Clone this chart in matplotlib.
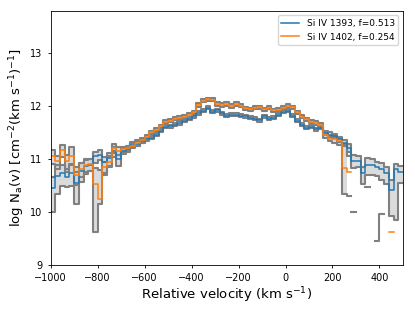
import matplotlib
matplotlib.use("Agg")
import matplotlib.pyplot as plt
import numpy as np

nan = np.nan

# bin edges of the velocity grid (km/s)
v_edges = np.arange(-1000, 501, 20)

# Si IV 1393 apparent column density per bin
logN_1393 = [10.45, 10.68, 10.73, 10.66, 10.73, 10.55, 10.77, 10.87, 10.89, 11.05,
             11.08, 10.94, 11.02, 11.15, 10.99, 11.15, 11.18, 11.27, 11.29, 11.34,
             11.37, 11.40, 11.46, 11.53, 11.61, 11.62, 11.65, 11.68, 11.72, 11.76,
             11.81, 11.87, 11.91, 11.97, 11.89, 11.92, 11.86, 11.82, 11.84, 11.84,
             11.82, 11.81, 11.78, 11.76, 11.73, 11.81, 11.76, 11.78, 11.84, 11.89,
             11.91, 11.82, 11.72, 11.65, 11.59, 11.61, 11.56, 11.59, 11.49, 11.46,
             11.43, 11.37, 11.30, 11.21, 10.97, 10.96, 10.73, 10.89, 10.89, 10.85,
             10.80, 10.73, 10.42, 10.80, 10.75]
err_lo_1393 = [0.45, 0.35, 0.25, 0.20, 0.25, 0.40, 0.20, 0.15, 0.12, 0.12,
               0.10, 0.20, 0.15, 0.12, 0.12, 0.06, 0.05, 0.05, 0.05, 0.04,
               0.03, 0.03, 0.03, 0.03, 0.03, 0.03, 0.03, 0.03, 0.03, 0.03,
               0.03, 0.03, 0.03, 0.03, 0.03, 0.03, 0.03, 0.03, 0.03, 0.03,
               0.03, 0.03, 0.03, 0.03, 0.03, 0.03, 0.03, 0.03, 0.03, 0.03,
               0.03, 0.03, 0.03, 0.03, 0.03, 0.03, 0.03, 0.03, 0.03, 0.04,
               0.04, 0.05, 0.05, 0.08, 0.15, 0.12, 0.20, 0.20, 0.20, 0.18,
               0.20, 0.20, 0.50, 0.95, 0.20]
err_hi_1393 = [0.20, 0.20, 0.15, 0.15, 0.15, 0.20, 0.15, 0.12, 0.10, 0.08,
               0.08, 0.10, 0.10, 0.08, 0.08, 0.06, 0.05, 0.05, 0.05, 0.04,
               0.03, 0.03, 0.03, 0.03, 0.03, 0.03, 0.03, 0.03, 0.03, 0.03,
               0.03, 0.03, 0.03, 0.03, 0.03, 0.03, 0.03, 0.03, 0.03, 0.03,
               0.03, 0.03, 0.03, 0.03, 0.03, 0.03, 0.03, 0.03, 0.03, 0.03,
               0.03, 0.03, 0.03, 0.03, 0.03, 0.03, 0.03, 0.03, 0.03, 0.04,
               0.04, 0.05, 0.05, 0.08, 0.10, 0.10, 0.12, 0.12, 0.10, 0.10,
               0.12, 0.12, 0.18, 0.10, 0.12]

# Si IV 1402
logN_1402 = [11.05, 10.96, 11.16, 10.96, 11.05, 10.70, 10.80, 10.88, 10.90, 10.53,
             10.24, 10.85, 10.95, 11.21, 11.15, 11.18, 11.20, 11.25, 11.30, 11.35,
             11.42, 11.50, 11.55, 11.62, 11.70, 11.72, 11.76, 11.78, 11.80, 11.83,
             11.88, 12.02, 12.10, 12.13, 12.12, 12.04, 12.02, 12.04, 12.00, 12.04,
             12.01, 11.96, 11.94, 11.97, 11.98, 11.94, 11.97, 11.92, 11.93, 11.97,
             12.00, 11.98, 11.88, 11.80, 11.75, 11.70, 11.68, 11.64, 11.45, 11.38,
             11.37, 11.33, 10.83, 10.75, nan, nan, nan, nan, nan, nan,
             nan, nan, 9.61, nan, nan]
err_lo_1402 = [0.15, 0.15, 0.12, 0.20, 0.15, 0.20, 0.15, 0.12, 0.12, 0.92,
               0.10, 0.15, 0.10, 0.10, 0.08, 0.05, 0.05, 0.05, 0.05, 0.05,
               0.03, 0.03, 0.03, 0.03, 0.03, 0.03, 0.03, 0.03, 0.03, 0.03,
               0.03, 0.03, 0.03, 0.03, 0.03, 0.03, 0.03, 0.03, 0.03, 0.03,
               0.03, 0.03, 0.03, 0.03, 0.03, 0.03, 0.03, 0.03, 0.03, 0.03,
               0.03, 0.03, 0.03, 0.03, 0.03, 0.03, 0.03, 0.03, 0.05, 0.05,
               0.06, 0.06, 0.50, 0.45, nan, nan, nan, nan, nan, nan,
               nan, nan, nan, nan, nan]
err_hi_1402 = [0.12, 0.10, 0.10, 0.12, 0.18, 0.15, 0.12, 0.10, 0.10, 0.30,
               0.55, 0.10, 0.10, 0.08, 0.08, 0.05, 0.05, 0.05, 0.05, 0.05,
               0.03, 0.03, 0.03, 0.03, 0.03, 0.03, 0.03, 0.03, 0.03, 0.03,
               0.03, 0.03, 0.03, 0.03, 0.03, 0.03, 0.03, 0.03, 0.03, 0.03,
               0.03, 0.03, 0.03, 0.03, 0.03, 0.03, 0.03, 0.03, 0.03, 0.03,
               0.03, 0.03, 0.03, 0.03, 0.03, 0.03, 0.03, 0.03, 0.05, 0.05,
               0.06, 0.06, 0.45, 0.30, nan, nan, nan, nan, nan, nan,
               nan, nan, nan, nan, nan]
# saturated / limit bins of 1402 that only have a bound
limit_1402 = [nan] * 64 + [10.0, nan, nan, 10.47, nan, 9.44, 9.95, nan, nan, nan, nan]

labels = ['Si IV 1393, f=0.513', 'Si IV 1402, f=0.254']


def ext(a):
    a = np.asarray(a, dtype=float)
    return np.append(a, a[-1])


fig, ax = plt.subplots(figsize=(4.15, 3.11), dpi=100)

series = [(logN_1393, err_lo_1393, err_hi_1393), (logN_1402, err_lo_1402, err_hi_1402)]
for y, elo, ehi in series:
    lo = np.array(y) - np.array(elo)
    hi = np.array(y) + np.array(ehi)
    ax.fill_between(v_edges, ext(lo), ext(hi), step='post', color='lightgray', alpha=0.8, lw=0)
    ax.step(v_edges, ext(lo), where='post', color='gray', lw=1.5)
    ax.step(v_edges, ext(hi), where='post', color='gray', lw=1.5)
ax.step(v_edges, ext(limit_1402), where='post', color='gray', lw=1.5)

ax.step(v_edges, ext(logN_1393), where='post', color='C0', lw=1.1, label=labels[0])
ax.step(v_edges, ext(logN_1402), where='post', color='C1', lw=1.1, label=labels[1])

ax.set_xlim(-1000, 500)
ax.set_ylim(9, 13.8)
ax.set_xticks(np.arange(-1000, 401, 200))
ax.set_yticks([9, 10, 11, 12, 13])
ax.tick_params(labelsize=7, length=2.5, width=0.6)
for s in ax.spines.values():
    s.set_linewidth(0.6)
ax.set_xlabel('Relative velocity (km s$^{-1}$)', fontsize=9.5, labelpad=2)
ax.set_ylabel('log N$_{\\rm a}$(v) [cm$^{-2}$(km s$^{-1}$)$^{-1}$]', fontsize=9.5, labelpad=2)
ax.legend(loc='upper right', fontsize=6.5)

plt.subplots_adjust(left=0.122, right=0.971, bottom=0.149, top=0.965)
plt.savefig('out.png', dpi=100)
